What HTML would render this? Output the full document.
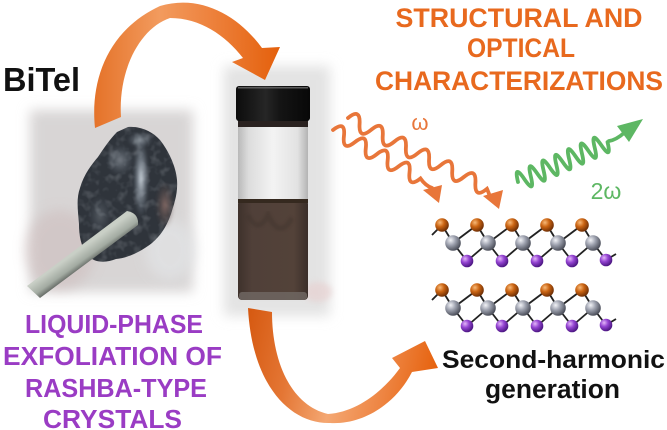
<!DOCTYPE html>
<html><head><meta charset="utf-8">
<style>
html,body{margin:0;padding:0;background:#fff;overflow:hidden;}
svg{display:block;}
text{font-family:"Liberation Sans",Arial,sans-serif;}
</style></head><body>
<svg width="667" height="430" viewBox="0 0 667 430" xmlns="http://www.w3.org/2000/svg">
<defs>
 <filter id="b6" x="-30%" y="-30%" width="160%" height="160%"><feGaussianBlur stdDeviation="6"/></filter>
 <filter id="b3" x="-30%" y="-30%" width="160%" height="160%"><feGaussianBlur stdDeviation="3"/></filter>
 <filter id="b1" x="-30%" y="-30%" width="160%" height="160%"><feGaussianBlur stdDeviation="1.2"/></filter>
 <filter id="tex" x="0" y="0" width="100%" height="100%">
   <feTurbulence type="fractalNoise" baseFrequency="0.12" numOctaves="2" seed="4" result="n"/>
   <feColorMatrix in="n" type="matrix" values="0 0 0 0 0.85  0 0 0 0 0.9  0 0 0 0 0.95  0 0 0 1.6 -0.75" result="m"/>
   <feComposite in="m" in2="SourceGraphic" operator="in"/>
 </filter>
 <linearGradient id="ga1" gradientUnits="userSpaceOnUse" x1="95" y1="0" x2="280" y2="0">
   <stop offset="0" stop-color="#E5732A"/>
   <stop offset="0.35" stop-color="#F29B5E"/>
   <stop offset="0.6" stop-color="#EE8440"/>
   <stop offset="1" stop-color="#E4600C"/>
 </linearGradient>
 <linearGradient id="ga2" gradientUnits="userSpaceOnUse" x1="250" y1="310" x2="440" y2="350">
   <stop offset="0" stop-color="#D65A12"/>
   <stop offset="0.25" stop-color="#E47634"/>
   <stop offset="0.5" stop-color="#F4A772"/>
   <stop offset="0.75" stop-color="#EE8644"/>
   <stop offset="1" stop-color="#E6620E"/>
 </linearGradient>
 <linearGradient id="glass" x1="0" y1="0" x2="1" y2="0">
   <stop offset="0" stop-color="#b9b9b9"/>
   <stop offset="0.15" stop-color="#dcdcdc"/>
   <stop offset="0.5" stop-color="#f3f3f3"/>
   <stop offset="0.85" stop-color="#e2e2e2"/>
   <stop offset="1" stop-color="#b4b4b4"/>
 </linearGradient>
 <linearGradient id="liq" x1="0" y1="0" x2="1" y2="0">
   <stop offset="0" stop-color="#3e312b"/>
   <stop offset="0.2" stop-color="#504039"/>
   <stop offset="0.8" stop-color="#534239"/>
   <stop offset="1" stop-color="#3a2e29"/>
 </linearGradient>
 <linearGradient id="cap" x1="0" y1="0" x2="1" y2="0">
   <stop offset="0" stop-color="#0c0c0c"/>
   <stop offset="0.4" stop-color="#262626"/>
   <stop offset="0.6" stop-color="#141414"/>
   <stop offset="1" stop-color="#080808"/>
 </linearGradient>
 <linearGradient id="tw" gradientUnits="userSpaceOnUse" x1="82" y1="248" x2="92" y2="262">
   <stop offset="0" stop-color="#c9cfc6"/>
   <stop offset="0.6" stop-color="#a3aba2"/>
   <stop offset="1" stop-color="#5c615c"/>
 </linearGradient>
 <radialGradient id="hl" cx="0.5" cy="0.5" r="0.5">
   <stop offset="0" stop-color="#dfe8f0" stop-opacity="0.9"/>
   <stop offset="1" stop-color="#8a98a8" stop-opacity="0"/>
 </radialGradient>
 <radialGradient id="br" cx="0.5" cy="0.5" r="0.5">
   <stop offset="0" stop-color="#8a6e68" stop-opacity="0.9"/>
   <stop offset="1" stop-color="#5a4a48" stop-opacity="0"/>
 </radialGradient>
 <radialGradient id="go" cx="0.35" cy="0.32" r="0.7">
   <stop offset="0" stop-color="#F7B978"/>
   <stop offset="0.45" stop-color="#CB6412"/>
   <stop offset="1" stop-color="#6E2E05"/>
 </radialGradient>
 <radialGradient id="gg" cx="0.35" cy="0.32" r="0.7">
   <stop offset="0" stop-color="#F2F3F7"/>
   <stop offset="0.45" stop-color="#9EA2AF"/>
   <stop offset="1" stop-color="#4A4D58"/>
 </radialGradient>
 <radialGradient id="gp" cx="0.35" cy="0.32" r="0.7">
   <stop offset="0" stop-color="#E3B6F8"/>
   <stop offset="0.45" stop-color="#9444D2"/>
   <stop offset="1" stop-color="#4A1580"/>
 </radialGradient>
 <g id="layer">
   <path d="M432,235 L442,225 L453,243 L477,225 L488,243 L512,225 L523,243 L547,225 L558,243 L582,225 L593,243" fill="none" stroke="#222" stroke-width="1.8"/>
   <path d="M453,243 L467,261 L488,243 L502,261 L523,243 L537,261 L558,243 L572,261 L593,243 L606,260 L616,254" fill="none" stroke="#222" stroke-width="1.8"/>
   <circle cx="442" cy="225" r="6.8" fill="url(#go)"/>
   <circle cx="477" cy="225" r="6.8" fill="url(#go)"/>
   <circle cx="512" cy="225" r="6.8" fill="url(#go)"/>
   <circle cx="547" cy="225" r="6.8" fill="url(#go)"/>
   <circle cx="582" cy="225" r="6.8" fill="url(#go)"/>
   <circle cx="453" cy="243" r="7.8" fill="url(#gg)"/>
   <circle cx="488" cy="243" r="7.8" fill="url(#gg)"/>
   <circle cx="523" cy="243" r="7.8" fill="url(#gg)"/>
   <circle cx="558" cy="243" r="7.8" fill="url(#gg)"/>
   <circle cx="593" cy="243" r="7.8" fill="url(#gg)"/>
   <circle cx="467" cy="261" r="6.3" fill="url(#gp)"/>
   <circle cx="502" cy="261" r="6.3" fill="url(#gp)"/>
   <circle cx="537" cy="261" r="6.3" fill="url(#gp)"/>
   <circle cx="572" cy="261" r="6.3" fill="url(#gp)"/>
   <circle cx="606" cy="260" r="6.3" fill="url(#gp)"/>
 </g>
 <path id="crys" d="M128,127 C140,126 152,131 160,140 C168,150 176,166 177,180 C178,194 174,204 171,214 C166,228 160,236 152,243 C142,251 128,258 116,259 C106,263 95,263 88,256 C81,247 79,236 79,224 C78,211 76,199 80,188 C84,174 92,164 98,157 C104,148 110,139 117,132 Z"/>
</defs>

<!-- Crystal photo -->
<rect x="30" y="110" width="163" height="182" fill="#d8d5d5" filter="url(#b6)"/>
<ellipse cx="60" cy="250" rx="35" ry="40" fill="#cdbcbc" opacity="0.55" filter="url(#b6)"/>
<ellipse cx="170" cy="250" rx="25" ry="30" fill="#e2e4e6" opacity="0.7" filter="url(#b6)"/>
<use href="#crys" fill="#2f343b"/>
<use href="#crys" fill="#fff" filter="url(#tex)" opacity="0.3"/>
<ellipse cx="165" cy="205" rx="10" ry="24" fill="url(#br)" filter="url(#b1)"/>
<ellipse cx="141" cy="178" rx="8" ry="40" fill="url(#hl)" filter="url(#b1)"/>
<ellipse cx="120" cy="160" rx="14" ry="16" fill="url(#hl)" opacity="0.45" filter="url(#b1)"/>
<ellipse cx="100" cy="215" rx="12" ry="20" fill="url(#hl)" opacity="0.25" filter="url(#b1)"/>
<ellipse cx="140" cy="140" rx="13" ry="8" fill="url(#hl)" opacity="0.6" filter="url(#b1)"/>
<path d="M27,286 L127,211 Q139,213 138,225 L40,298 Z" fill="url(#tw)"/>

<!-- Vial -->
<rect x="224" y="66" width="106" height="250" fill="#e3e3e3" filter="url(#b6)"/>
<ellipse cx="318" cy="292" rx="14" ry="10" fill="#e8cfcf" opacity="0.6" filter="url(#b3)"/>
<rect x="238" y="118" width="70" height="10" fill="#2a2220"/>
<rect x="238" y="127" width="70" height="74" fill="url(#glass)"/>
<rect x="238" y="200" width="70" height="100" rx="4" fill="url(#liq)"/>
<rect x="238" y="199" width="70" height="4" fill="#35291f"/>
<path d="M248,215 Q258,235 268,215 Q280,240 292,218" fill="none" stroke="#3e322c" stroke-width="5" opacity="0.4" filter="url(#b1)"/>
<rect x="239" y="292" width="68" height="8" rx="3" fill="#6f6661" opacity="0.85"/>
<rect x="236" y="86" width="74" height="35" rx="3" fill="url(#cap)"/>
<rect x="238" y="87" width="70" height="1.5" fill="#5a5a5a"/>

<!-- Big orange arrows -->
<path d="M95,128 C90,80 108,30 160,6 C200,-6 238,15 262,48 L280,47 L265,80 L232,62 L243,58 C225,35 200,18 170,18 C140,28 118,70 121,117 Z" fill="url(#ga1)"/>
<path d="M248,308 L272,312 C272,360 290,405 328,414 C358,412 384,390 400,368 L392,358 L425,341 L438,368 L412,372 C395,405 362,425 330,423 C290,424 252,385 248,308 Z" fill="url(#ga2)"/>

<!-- Text -->
<text x="3" y="91" font-size="33" font-weight="bold" fill="#111" textLength="77" lengthAdjust="spacingAndGlyphs">BiTel</text>
<g font-weight="bold" fill="#E8691E" text-anchor="middle" font-size="26.5">
  <text x="519" y="27" textLength="247" lengthAdjust="spacingAndGlyphs">STRUCTURAL AND</text>
  <text x="521" y="57" textLength="108" lengthAdjust="spacingAndGlyphs">OPTICAL</text>
  <text x="519" y="90" textLength="288" lengthAdjust="spacingAndGlyphs">CHARACTERIZATIONS</text>
</g>
<g font-weight="bold" fill="#9A3CC4" text-anchor="middle" font-size="25.5">
  <text x="114" y="333" textLength="178" lengthAdjust="spacingAndGlyphs">LIQUID-PHASE</text>
  <text x="112.5" y="365" textLength="219" lengthAdjust="spacingAndGlyphs">EXFOLIATION  OF</text>
  <text x="116" y="397" textLength="182" lengthAdjust="spacingAndGlyphs">RASHBA-TYPE</text>
  <text x="112.5" y="428" textLength="139" lengthAdjust="spacingAndGlyphs">CRYSTALS</text>
</g>
<text x="442" y="368" font-size="25" font-weight="bold" fill="#111" textLength="223" lengthAdjust="spacingAndGlyphs">Second-harmonic</text>
<text x="485" y="398" font-size="25.5" font-weight="bold" fill="#111" textLength="135" lengthAdjust="spacingAndGlyphs">generation</text>
<text x="420" y="130" font-size="22" fill="#E8763A" text-anchor="middle">ω</text>
<text x="606" y="199" font-size="23" fill="#5DB763" text-anchor="middle">2ω</text>

<!-- Orange wavy arrows -->
<g fill="none" stroke="#E8763A" stroke-width="3.8" stroke-linecap="round">
  <g transform="translate(333,130) rotate(29)">
    <path d="M0,0 q6.25,-15 12.5,0 t12.5,0 t12.5,0 t12.5,0 t12.5,0 t12.5,0 t12.5,0 t12.5,0 q8,4 14.7,2.7"/>
  </g>
  <g transform="translate(348,118) rotate(27)">
    <path d="M0,0 q6.5,-15 13,0 t13,0 t13,0 t13,0 t13,0 t13,0 t13,0 t13,0 t13,0 t13,0 t13,0 t13,0 q4,3 7,7"/>
  </g>
</g>
<polygon points="423,190 442,185 439,203" fill="#E8763A"/>
<polygon points="483,196 503,190 499,209" fill="#E8763A"/>

<!-- Green wave -->
<g transform="translate(518,182) rotate(-24)">
  <path d="M0,0 q3.5,-19 7,0 t7,0 t7,0 t7,0 t7,0 t7,0 t7,0 t7,0 t7,0 t7,0 t7,0 t7,0 t7,0 t7,0" fill="none" stroke="#5DB763" stroke-width="3.8" stroke-linecap="round"/>
</g>
<path d="M609,141 Q616,140 624,133" fill="none" stroke="#5DB763" stroke-width="3.8" stroke-linecap="round"/>
<polygon points="617,126 643,119 629,142" fill="#5DB763"/>

<!-- Lattice -->
<use href="#layer"/>
<use href="#layer" transform="translate(0,65)"/>
</svg>
</body></html>
